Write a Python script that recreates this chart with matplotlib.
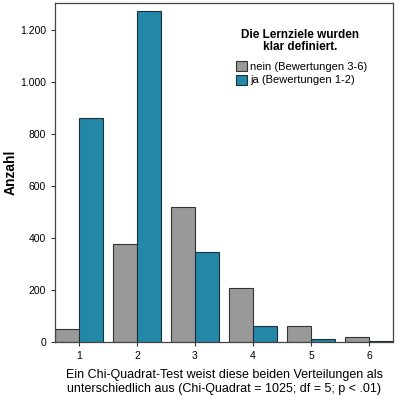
import matplotlib
matplotlib.use("Agg")
from matplotlib import pyplot as plt
from matplotlib.ticker import FuncFormatter
import numpy as np

plt.rcParams['font.family'] = ['Liberation Sans', 'DejaVu Sans']

categories = [1, 2, 3, 4, 5, 6]
nein = [50, 378, 519, 206, 63, 18]
ja = [861, 1273, 345, 63, 10, 2]

fig = plt.figure(figsize=(4.0, 3.99), dpi=100)
ax = fig.add_axes([0.1375, 0.1429, 0.845, 0.8496])

x = np.array(categories, dtype=float)
w = 0.414
ax.bar(x - w, nein, width=w, align='edge', color='#999999', edgecolor='#333333',
       linewidth=0.8, label='nein (Bewertungen 3-6)')
ax.bar(x, ja, width=w, align='edge', color='#2387a8', edgecolor='#1f2f38',
       linewidth=0.8, label='ja (Bewertungen 1-2)')

ax.set_xlim(1 - w, 6 + w)
ax.set_ylim(0, 1305)
ax.set_xticks(categories)
ax.set_yticks([0, 200, 400, 600, 800, 1000, 1200])
ax.yaxis.set_major_formatter(FuncFormatter(lambda v, p: f"{int(v):,}".replace(",", ".")))
ax.tick_params(labelsize=7.5, length=3, width=0.8, color='#333333')
for s in ax.spines.values():
    s.set_color('#444444')
    s.set_linewidth(0.9)

ax.set_ylabel("Anzahl", fontsize=10, fontweight='bold')
ax.yaxis.set_label_coords(-0.11, 0.5)
ax.set_xlabel("Ein Chi-Quadrat-Test weist diese beiden Verteilungen als\n"
              "unterschiedlich aus (Chi-Quadrat = 1025; df = 5; p < .01)",
              fontsize=9, linespacing=1.15, labelpad=6)

# legend title drawn separately, centered above the entries
fig.text(300 / 400, 1 - 41 / 399, "Die Lernziele wurden\nklar definiert.",
         ha='center', va='center', fontsize=8.5, fontweight='bold', linespacing=1.0)
leg = ax.legend(loc='upper left', bbox_to_anchor=(236 / 400, 1 - 61 / 399),
                bbox_transform=fig.transFigure, frameon=False, fontsize=8,
                handlelength=1.0, handleheight=1.0, handletextpad=0.3,
                labelspacing=0.25, borderpad=0, borderaxespad=0)

fig.savefig("out.png", dpi=100)
